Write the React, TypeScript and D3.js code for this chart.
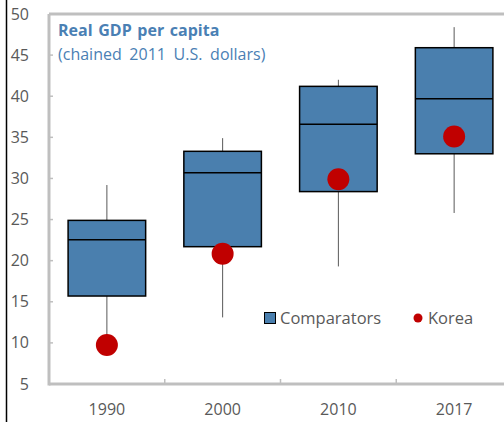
import React from 'react';
import * as d3 from 'd3';

// values (thousands of 2011 US$)
const years = ['1990', '2000', '2010', '2017'];
const whiskerLow = [10.5, 13.1, 19.3, 25.8];
const boxLow = [15.7, 21.7, 28.4, 33.0];
const median = [22.55, 30.7, 36.6, 39.7];
const boxHigh = [24.9, 33.3, 41.2, 45.9];
const whiskerHigh = [29.2, 34.9, 42.0, 48.4];
const korea = [9.75, 20.85, 29.9, 35.1];
const yTicks = [5, 10, 15, 20, 25, 30, 35, 40, 45, 50];

const W = 504;
const H = 422;
const font = '"Open Sans", "Noto Sans", sans-serif';
const boxFill = '#4a7fae';
const dotFill = '#c00000';
const axisGrey = '#bfbfbf';
const textGrey = '#595959';
const titleBlue = '#4a80b4';

function App() {
    const x = d3.scaleBand().domain(years).range([49, 512]).paddingInner(0).paddingOuter(0);
    const y = d3.scaleLinear().domain([5, 50]).range([384, 14]);
    const boxW = x.bandwidth() * 0.67;

    return (
        <svg width={W} height={H} style={{position: 'absolute', left: 0, top: 0, fontFamily: font}}>
            <rect width={W} height={H} fill="#fff"/>
            {/* left border */}
            <line x1={6.5} x2={6.5} y1={0} y2={H} stroke="#000" strokeWidth={1.5}/>

            {/* frame */}
            <line x1={49} x2={W} y1={y(50)} y2={y(50)} stroke={axisGrey} strokeWidth={3}/>
            <line x1={49} x2={49} y1={y(50)} y2={y(5) + 1.5} stroke={axisGrey} strokeWidth={3}/>
            <line x1={49} x2={W} y1={y(5)} y2={y(5)} stroke={axisGrey} strokeWidth={3}/>

            {yTicks.map((t) => (
                <g key={t}>
                    <line x1={49} x2={53} y1={y(t)} y2={y(t)} stroke={axisGrey} strokeWidth={1.5}/>
                    <text x={29} y={y(t)} dy="0.35em" textAnchor="end" fontSize={16} fill={textGrey}>{t}</text>
                </g>
            ))}

            {years.slice(1).map((yr) => (
                <line key={yr} x1={x(yr)} x2={x(yr)} y1={y(5)} y2={y(5) - 5} stroke={axisGrey} strokeWidth={1.5}/>
            ))}
            {years.map((yr) => (
                <text key={yr} x={x(yr)! + x.bandwidth() / 2} y={415} textAnchor="middle" fontSize={16} fill={textGrey}>{yr}</text>
            ))}

            {/* boxes */}
            {years.map((yr, i) => {
                const cx = x(yr)! + x.bandwidth() / 2;
                return (
                    <g key={yr}>
                        <line x1={cx} x2={cx} y1={y(whiskerHigh[i])} y2={y(whiskerLow[i])} stroke={textGrey} strokeWidth={1}/>
                        <rect x={cx - boxW / 2} y={y(boxHigh[i])} width={boxW} height={y(boxLow[i]) - y(boxHigh[i])}
                              fill={boxFill} stroke="#000" strokeWidth={1.5}/>
                        <line x1={cx - boxW / 2} x2={cx + boxW / 2} y1={y(median[i])} y2={y(median[i])} stroke="#000" strokeWidth={1.5}/>
                        <circle cx={cx} cy={y(korea[i])} r={11} fill={dotFill}/>
                    </g>
                );
            })}

            {/* title */}
            <text x={58} y={36} fontSize={16} fontWeight="bold" fill={titleBlue} wordSpacing={1.5}>Real GDP per capita</text>
            <text x={58} y={60} fontSize={16} fill={titleBlue} wordSpacing={3.5}>(chained 2011 U.S. dollars)</text>

            {/* legend */}
            <rect x={264.5} y={312.5} width={11} height={11} fill={boxFill} stroke="#000" strokeWidth={1}/>
            <text x={280} y={324} fontSize={16.5} fill={textGrey}>Comparators</text>
            <circle cx={418} cy={318} r={4.5} fill={dotFill}/>
            <text x={428} y={324} fontSize={16.5} fill={textGrey}>Korea</text>
        </svg>
    );
}

export default App;
